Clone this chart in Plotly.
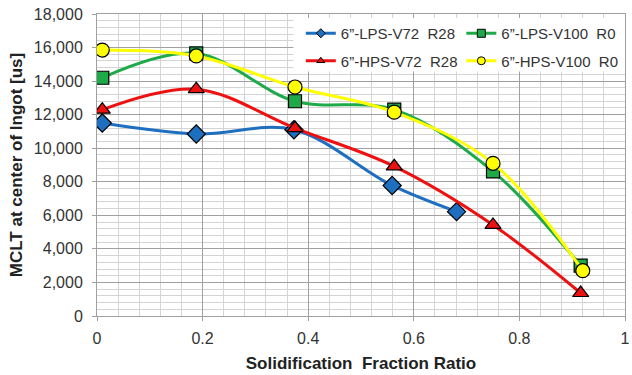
import plotly.graph_objects as go

x_lps72 = [0.01, 0.188, 0.373, 0.559, 0.681]
y_lps72 = [11500, 10850, 11100, 7780, 6220]

x_hps72 = [0.01, 0.188, 0.375, 0.563, 0.75, 0.916]
y_hps72 = [12300, 13520, 11200, 8920, 5430, 1370]

x_lps100 = [0.01, 0.188, 0.375, 0.563, 0.75, 0.916]
y_lps100 = [14200, 15650, 12800, 12300, 8620, 3000]

x_hps100 = [0.01, 0.188, 0.375, 0.563, 0.75, 0.92]
y_hps100 = [15850, 15500, 13650, 12150, 9100, 2700]

names = ["6\u201d-LPS-V72\u00a0\u00a0R28", "6\u201d-LPS-V100\u00a0\u00a0R0",
         "6\u201d-HPS-V72\u00a0\u00a0R28", "6\u201d-HPS-V100\u00a0\u00a0R0"]

x_ticks = [0, 0.2, 0.4, 0.6, 0.8, 1]
x_ticktext = ["0", "0.2", "0.4", "0.6", "0.8", "1"]

fig = go.Figure()

def add(x, y, name, color, symbol, size, lsize, legend):
    fig.add_trace(go.Scatter(
        x=x, y=y, name=name, mode="lines+markers", showlegend=False,
        line=dict(color=color, width=3, shape="spline", smoothing=1.0),
        marker=dict(color=color, symbol=symbol, size=size,
                    line=dict(color="black", width=1.2)),
    ))
    # legend-only entry with smaller marker
    fig.add_trace(go.Scatter(
        x=[None], y=[None], name=name, mode="lines+markers", showlegend=True,
        legend=legend, legendgroup=name,
        line=dict(color=color, width=3),
        marker=dict(color=color, symbol=symbol, size=lsize,
                    line=dict(color="black", width=1)),
    ))

add(x_lps72, y_lps72, names[0], "#1f6fc0", "diamond", 14, 7, "legend")
add(x_lps100, y_lps100, names[1], "#1faa4a", "square", 13, 8, "legend2")
add(x_hps72, y_hps72, names[2], "#ee1111", "triangle-up", 14, 7, "legend")
add(x_hps100, y_hps100, names[3], "#ffff00", "circle", 14, 8, "legend2")

font = "Liberation Sans, Arial, sans-serif"
leg_common = dict(yanchor="top", xanchor="left", bgcolor="rgba(0,0,0,0)",
                  font=dict(size=15, color="#333"), tracegroupgap=5,
                  itemwidth=30)
fig.update_layout(
    width=632, height=375,
    margin=dict(l=97, r=2, t=14, b=59),
    paper_bgcolor="white", plot_bgcolor="white",
    font=dict(family=font, size=16, color="#333"),
    showlegend=True,
    legend=dict(x=0.386, y=0.99, **leg_common),
    legend2=dict(x=0.69, y=0.99, **leg_common),
    shapes=[dict(type="rect", xref="paper", yref="paper", x0=0.372, x1=1.0,
                 y0=0.81, y1=0.987, fillcolor="white", line=dict(width=0),
                 layer="above")],
    xaxis=dict(range=[0, 1], tickvals=x_ticks, ticktext=x_ticktext,
               ticklabeloverflow="allow",
               showgrid=True, gridcolor="#a0a0a0", gridwidth=1,
               minor=dict(dtick=0.04, showgrid=True, gridcolor="#d4d4d4", gridwidth=1),
               showline=True, linecolor="#a0a0a0", mirror=True,
               ticks="outside", ticklen=4, tickcolor="#a0a0a0",
               ticklabelstandoff=4,
               zeroline=False, tickfont=dict(size=16, color="#333"),
               title=dict(text="<b>Solidification\u00a0\u00a0Fraction Ratio</b>",
                          font=dict(size=17, color="#222"), standoff=10)),
    yaxis=dict(range=[0, 18000], dtick=2000, tickformat=",d",
               showgrid=True, gridcolor="#a0a0a0", gridwidth=1,
               minor=dict(dtick=400, showgrid=True, gridcolor="#d4d4d4", gridwidth=1),
               showline=True, linecolor="#a0a0a0", mirror=True,
               ticks="outside", ticklen=4, tickcolor="#a0a0a0",
               ticklabelstandoff=6,
               zeroline=False, tickfont=dict(size=16, color="#333"),
               title=dict(text="<b>MCLT at center of Ingot [us]</b>",
                          font=dict(size=17, color="#222"), standoff=6)),
)

fig.write_html("out.html")
